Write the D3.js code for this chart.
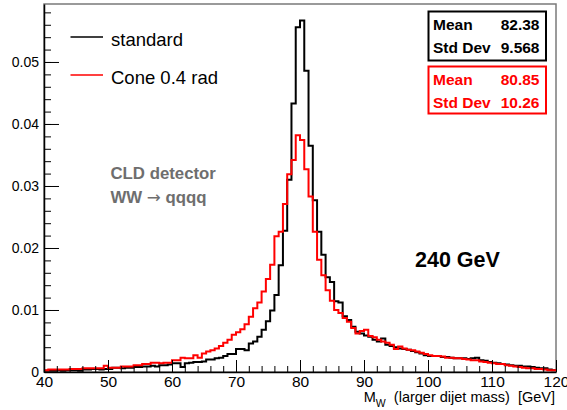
<!DOCTYPE html>
<html>
<head>
<meta charset="utf-8">
<script src="https://cdn.jsdelivr.net/npm/d3@7"></script>
<style>
  body { margin: 0; background: #fff; }
  svg { font-family: "Liberation Sans", Arial, Helvetica, sans-serif; }
  text { white-space: pre; }
</style>
</head>
<body>
<div id="visual"></div>
<script>
// histogram binning: 120 bins from 40 to 120 GeV
const xMin = 40, xMax = 120, nBins = 120;

// bin contents (normalised)
const standard = [
  0.0002, 0.0002, 0.0002, 0.0003, 0.0002, 0.0003, 0.0003, 0.0003, 0.0002, 0.0004,
  0.0004, 0.0005, 0.0005, 0.0004, 0.0005, 0.0005, 0.0007, 0.0007, 0.0006, 0.0007,
  0.0007, 0.0008, 0.0008, 0.0009, 0.0009, 0.0010, 0.0009, 0.0011, 0.0011, 0.0012,
  0.0014, 0.0014, 0.0008, 0.0014, 0.0015, 0.0016, 0.0016, 0.0017, 0.0020, 0.0020,
  0.0022, 0.0023, 0.0026, 0.0029, 0.0029, 0.0037, 0.0037, 0.0035, 0.0046, 0.0049,
  0.0057, 0.0068, 0.0082, 0.0099, 0.0124, 0.0172, 0.0228, 0.0310, 0.0433, 0.0556,
  0.0567, 0.0486, 0.0365, 0.0277, 0.0226, 0.0189, 0.0153, 0.0145, 0.0114, 0.0112,
  0.0090, 0.0084, 0.0073, 0.0065, 0.0062, 0.0059, 0.0057, 0.0052, 0.0049, 0.0054,
  0.0044, 0.0042, 0.0040, 0.0038, 0.0037, 0.0036, 0.0034, 0.0032, 0.0030, 0.0027,
  0.0026, 0.0026, 0.0026, 0.0024, 0.0024, 0.0023, 0.0022, 0.0022, 0.0022, 0.0021,
  0.0022, 0.0023, 0.0019, 0.0018, 0.0016, 0.0015, 0.0014, 0.0013, 0.0012, 0.0011,
  0.0010, 0.0010, 0.0009, 0.0009, 0.0008, 0.0007, 0.0006, 0.0006, 0.0004, 0.0003
];
const cone = [
  0.0003, 0.0004, 0.0004, 0.0004, 0.0004, 0.0004, 0.0005, 0.0005, 0.0005, 0.0006,
  0.0006, 0.0006, 0.0006, 0.0006, 0.0010, 0.0007, 0.0007, 0.0007, 0.0009, 0.0009,
  0.0009, 0.0011, 0.0011, 0.0013, 0.0013, 0.0015, 0.0015, 0.0014, 0.0015, 0.0015,
  0.0019, 0.0019, 0.0023, 0.0022, 0.0022, 0.0027, 0.0023, 0.0030, 0.0033, 0.0035,
  0.0038, 0.0042, 0.0047, 0.0052, 0.0060, 0.0064, 0.0069, 0.0077, 0.0089, 0.0103,
  0.0112, 0.0130, 0.0150, 0.0173, 0.0219, 0.0226, 0.0271, 0.0319, 0.0342, 0.0382,
  0.0374, 0.0327, 0.0283, 0.0226, 0.0181, 0.0156, 0.0132, 0.0115, 0.0100, 0.0095,
  0.0087, 0.0081, 0.0071, 0.0062, 0.0066, 0.0068, 0.0058, 0.0056, 0.0052, 0.0049,
  0.0047, 0.0044, 0.0037, 0.0041, 0.0038, 0.0036, 0.0035, 0.0033, 0.0031, 0.0029,
  0.0027, 0.0026, 0.0026, 0.0025, 0.0023, 0.0023, 0.0022, 0.0022, 0.0021, 0.0020,
  0.0019, 0.0019, 0.0017, 0.0016, 0.0015, 0.0014, 0.0013, 0.0013, 0.0011, 0.0010,
  0.0009, 0.0008, 0.0007, 0.0006, 0.0006, 0.0005, 0.0005, 0.0004, 0.0003, 0.0003
];

const xTicks = [40, 50, 60, 70, 80, 90, 100, 110, 120];
const yTicks = [0, 0.01, 0.02, 0.03, 0.04, 0.05];
const yTickLabels = ["0", "0.01", "0.02", "0.03", "0.04", "0.05"];

const seriesNames = ["standard", "Cone 0.4 rad"];
const seriesColors = ["#000000", "#ff0000"];
const statsMean = ["82.38", "80.85"];
const statsStd = ["9.568", "10.26"];

const width = 567, height = 410;
const frame = { left: 44, right: 556, top: 4, bottom: 372 };

const svg = d3.select("#visual").append("svg")
  .attr("width", width).attr("height", height);

const x = d3.scaleLinear().domain([xMin, xMax]).range([frame.left, frame.right]);
const y = d3.scaleLinear().domain([0, 0.05935]).range([frame.bottom, frame.top]);

// frame
svg.append("rect")
  .attr("x", frame.left).attr("y", frame.top)
  .attr("width", frame.right - frame.left).attr("height", frame.bottom - frame.top)
  .attr("fill", "none").attr("stroke", "#7a7a7a").attr("stroke-width", 1.5);

svg.append("clipPath").attr("id", "clip").append("rect")
  .attr("x", frame.left).attr("y", frame.top)
  .attr("width", frame.right - frame.left).attr("height", frame.bottom - frame.top);

// histograms
const binW = (xMax - xMin) / nBins;
const stepLine = d3.line()
  .x(d => x(d[0])).y(d => y(d[1]))
  .curve(d3.curveStepAfter);

function histPoints(values) {
  const pts = values.map((v, i) => [xMin + i * binW, v]);
  pts.push([xMax, values[values.length - 1]]);
  return pts;
}

const hists = [standard, cone];
const plot = svg.append("g").attr("clip-path", "url(#clip)");
hists.forEach((vals, i) => {
  plot.append("path")
    .attr("d", stepLine(histPoints(vals)))
    .attr("fill", "none")
    .attr("stroke", seriesColors[i])
    .attr("stroke-width", 2);
});

// axes (ticks inward, ROOT style)
const xMinor = d3.range(xMin, xMax + 0.001, 2);
svg.append("g")
  .attr("transform", `translate(0,${frame.bottom})`)
  .call(d3.axisBottom(x).tickValues(xMinor).tickSize(-6).tickFormat(""))
  .call(g => g.select(".domain").remove());
svg.append("g")
  .attr("transform", `translate(0,${frame.bottom})`)
  .call(d3.axisBottom(x).tickValues(xTicks).tickSizeInner(-12).tickSizeOuter(0).tickPadding(4).tickFormat(d3.format("d")))
  .call(g => g.select(".domain").attr("stroke-width", 1.5))
  .call(g => g.selectAll("text").attr("font-size", 15.5).attr("fill", "#000")
    .attr("font-family", "Liberation Sans, Arial, sans-serif"));

const yMinor = d3.range(0, 0.0593, 0.002);
svg.append("g")
  .attr("transform", `translate(${frame.left},0)`)
  .call(d3.axisLeft(y).tickValues(yMinor).tickSize(-7).tickFormat(""))
  .call(g => g.select(".domain").remove());
svg.append("g")
  .attr("transform", `translate(${frame.left},0)`)
  .call(d3.axisLeft(y).tickValues(yTicks).tickSizeInner(-15).tickSizeOuter(0).tickPadding(5)
    .tickFormat((d, i) => yTickLabels[i]))
  .call(g => g.select(".domain").attr("stroke-width", 1.5))
  .call(g => g.selectAll("text").attr("font-size", 14).attr("fill", "#000")
    .attr("font-family", "Liberation Sans, Arial, sans-serif"));

// x axis title
const xt = svg.append("text")
  .attr("x", frame.right - 1).attr("y", 402)
  .attr("text-anchor", "end").attr("font-size", 14.5);
xt.append("tspan").text("M");
xt.append("tspan").attr("font-size", 10.5).attr("dy", 5).text("W");
xt.append("tspan").attr("dy", -5).text("  (larger dijet mass)  [GeV]");

// legend
const legY = [37, 75];
seriesNames.forEach((name, i) => {
  svg.append("line")
    .attr("x1", 70.5).attr("x2", 103).attr("y1", legY[i]).attr("y2", legY[i])
    .attr("stroke", seriesColors[i]).attr("stroke-width", 1.5);
  svg.append("text")
    .attr("x", 111).attr("y", legY[i] + 8.5)
    .attr("font-size", 18.5).attr("fill", "#000")
    .text(name);
});

// stats boxes
const boxTop = [11.5, 66.5];
const boxH = [49, 47];
seriesNames.forEach((name, i) => {
  const g = svg.append("g");
  g.append("rect")
    .attr("x", 428.5).attr("y", boxTop[i]).attr("width", 117.5).attr("height", boxH[i])
    .attr("fill", "#fff").attr("stroke", seriesColors[i]).attr("stroke-width", 2);
  const rows = [["Mean", statsMean[i]], ["Std Dev", statsStd[i]]];
  rows.forEach((r, j) => {
    const by = boxTop[i] + 18.5 + j * 23;
    g.append("text").attr("x", 433).attr("y", by)
      .attr("font-size", 15.5).attr("font-weight", "bold").attr("fill", seriesColors[i]).text(r[0]);
    g.append("text").attr("x", 539.5).attr("y", by).attr("text-anchor", "end")
      .attr("font-size", 15.5).attr("font-weight", "bold").attr("fill", seriesColors[i]).text(r[1]);
  });
});

// annotations
svg.append("text").attr("x", 110.5).attr("y", 178.7)
  .attr("font-size", 16.8).attr("font-weight", "bold").attr("fill", "#6e6e6e")
  .text("CLD detector");
const ww = svg.append("text").attr("x", 110.5).attr("y", 202.5)
  .attr("font-size", 16.8).attr("font-weight", "bold").attr("fill", "#6e6e6e");
ww.append("tspan").text("WW ");
ww.append("tspan").attr("font-family", "DejaVu Sans").attr("font-weight", "normal").text("\u2192");
ww.append("tspan").text(" qqqq");

svg.append("text").attr("x", 415).attr("y", 266.5)
  .attr("font-size", 21.5).attr("font-weight", "bold").attr("fill", "#000")
  .text("240 GeV");
</script>
</body>
</html>
